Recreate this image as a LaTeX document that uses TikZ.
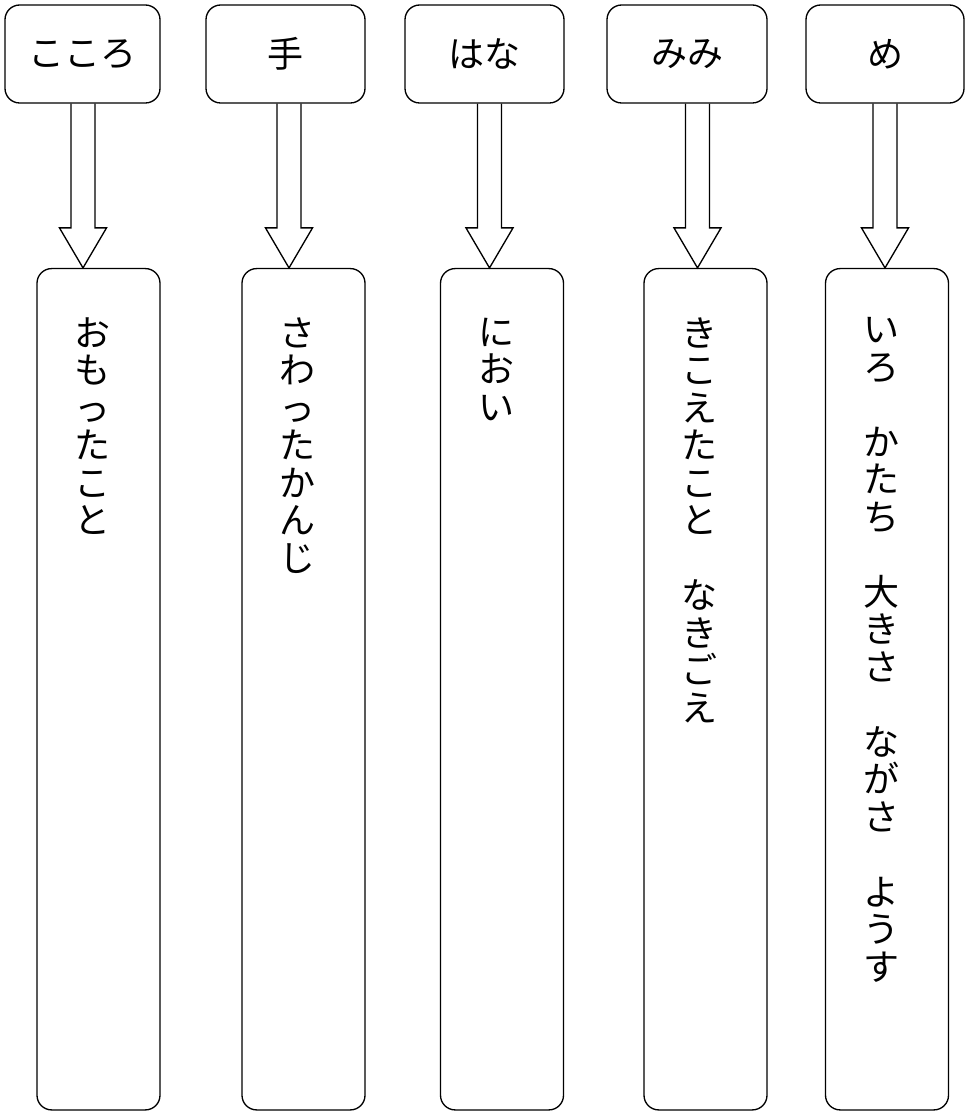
\documentclass[tikz,border=0pt]{standalone}
\usepackage{fontspec}
\newfontfamily\jp{Noto Sans CJK JP}
\usetikzlibrary{calc}
\tikzset{
    jpfont/.style={font=\jp\fontsize{27pt}{28.125pt}\selectfont},
    kbox/.style={draw, rounded corners=11pt, minimum height=73.5pt, inner sep=0pt, jpfont},
    obox/.style={draw, rounded corners=11pt, minimum width=92.25pt, minimum height=631pt},
    tate/.style={anchor=north, inner sep=0pt, align=center, jpfont}
}
\newcommand{\aki}{\mbox{}}

\begin{document}
\begin{tikzpicture}[x=0.75pt, y=-0.75pt, line width=1pt]
\useasboundingbox (0,0) rectangle (966,1112);
\foreach \i/\x/\w/\s in {1/82.5/155/こころ, 2/285.5/159/手, 3/484.5/159/はな, 4/687/160/みみ, 5/885/158/め}
{
    \node[kbox, minimum width=\w*0.75pt] (k\i) at (\x,54) {\s};
}
\foreach \i/\x in {1/98.5, 2/303.5, 3/502, 4/705.5, 5/887}
{
    \node[obox] (o\i) at (\x,689.25) {};
}

\foreach \i/\a in {1/83, 2/289, 3/489.5, 4/697.5, 5/885}
{
    \draw[line join=miter] (\a-12,0 |- k\i.south) -- ($(\a-12,0 |- o\i.north)+(0,-40)$) -- ++(-11.5,0) -- (\a,0 |- o\i.north) -- ++(23.5,-40) -- ++(-11.5,0) -- (\a+12,0 |- k\i.south);
}

\node[tate] (t1) at (92.5,317) {お\\も\\っ\\た\\こ\\と};
\node[tate] (t2) at (297.5,317) {さ\\わ\\っ\\た\\か\\ん\\じ};
\node[tate] (t3) at (496,317) {に\\お\\い};
\node[tate] (t4) at (699.5,317) {き\\こ\\え\\た\\こ\\と\\\aki\\な\\き\\ご\\え};
\node[tate] (t5) at (881,317) {い\\ろ\\\aki\\か\\た\\ち\\\aki\\大\\き\\さ\\\aki\\な\\が\\さ\\\aki\\よ\\う\\す};

\end{tikzpicture}
\end{document}
